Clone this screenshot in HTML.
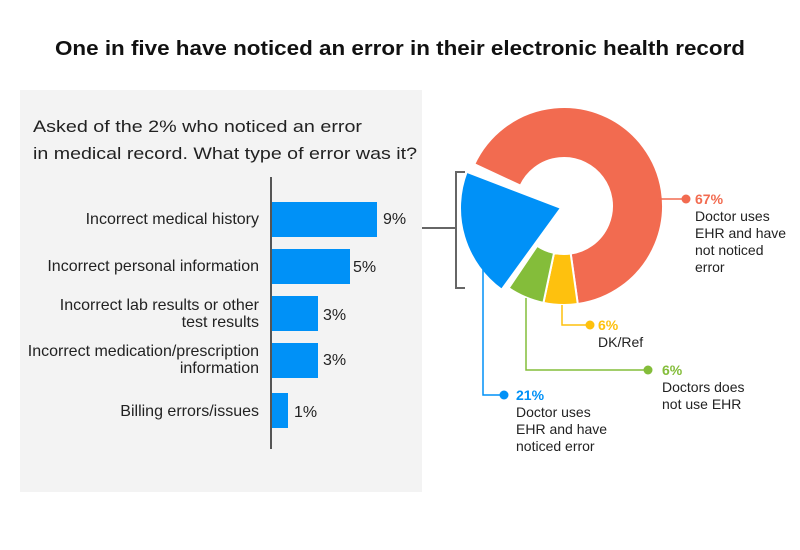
<!DOCTYPE html>
<html><head><meta charset="utf-8"><style>
html,body{margin:0;padding:0;background:#fff;}
body{width:800px;height:545px;overflow:hidden;font-family:"Liberation Sans",sans-serif;}
</style></head><body>
<svg width="800" height="545" viewBox="0 0 800 545" xmlns="http://www.w3.org/2000/svg" font-family="Liberation Sans, sans-serif">
<text x="55" y="55" font-size="20" font-weight="bold" fill="#111" textLength="690" lengthAdjust="spacingAndGlyphs">One in five have noticed an error in their electronic health record</text>
<rect x="20" y="90" width="402" height="402" fill="#f3f3f3"/>
<text x="33" y="132" font-size="17" fill="#222" textLength="329" lengthAdjust="spacingAndGlyphs">Asked of the 2% who noticed an error</text>
<text x="33" y="159" font-size="17" fill="#222" textLength="384" lengthAdjust="spacingAndGlyphs">in medical record. What type of error was it?</text>
<line x1="271" y1="177" x2="271" y2="449" stroke="#555" stroke-width="2"/>
<g fill="#0091f7">
<rect x="272" y="202" width="105" height="35"/>
<rect x="272" y="249" width="78" height="35"/>
<rect x="272" y="296" width="46" height="35"/>
<rect x="272" y="343" width="46" height="35"/>
<rect x="272" y="393" width="16" height="35"/>
</g>
<g font-size="16" fill="#222" text-anchor="end">
<text x="259" y="224">Incorrect medical history</text>
<text x="259" y="271">Incorrect personal information</text>
<text x="259" y="310">Incorrect lab results or other</text>
<text x="259" y="327">test results</text>
<text x="259" y="356">Incorrect medication/prescription</text>
<text x="259" y="373">information</text>
<text x="259" y="416">Billing errors/issues</text>
</g>
<g font-size="16" fill="#222">
<text x="383" y="224">9%</text>
<text x="353" y="272">5%</text>
<text x="323" y="320">3%</text>
<text x="323" y="365">3%</text>
<text x="294" y="417">1%</text>
</g>
<path d="M422 228 H456 M465 172 H456 V288 H465" stroke="#666" stroke-width="2" fill="none"/>
<g id="donut"></g>
<g fill="none" stroke-width="1.5">
<path d="M658 199 H685" stroke="#f26b50"/>
<path d="M562 305 V325 H590" stroke="#fec10e"/>
<path d="M526 298 V370 H648" stroke="#84bd3a"/>
<path d="M483 265 V395 H503" stroke="#0091f7"/>
</g>
<circle cx="686" cy="199" r="4.5" fill="#f26b50"/>
<circle cx="590" cy="325" r="4.5" fill="#fec10e"/>
<circle cx="648" cy="370" r="4.5" fill="#84bd3a"/>
<circle cx="504" cy="395" r="4.5" fill="#0091f7"/>
<g font-size="14" fill="#222">
<text x="695" y="204" fill="#f26b50" font-weight="bold">67%</text>
<text x="695" y="221">Doctor uses</text>
<text x="695" y="238">EHR and have</text>
<text x="695" y="255">not noticed</text>
<text x="695" y="272">error</text>
<text x="598" y="330" fill="#fec10e" font-weight="bold">6%</text>
<text x="598" y="347">DK/Ref</text>
<text x="662" y="375" fill="#84bd3a" font-weight="bold">6%</text>
<text x="662" y="392">Doctors does</text>
<text x="662" y="409">not use EHR</text>
<text x="516" y="400" fill="#0091f7" font-weight="bold">21%</text>
<text x="516" y="417">Doctor uses</text>
<text x="516" y="434">EHR and have</text>
<text x="516" y="451">noticed error</text>
</g>
</svg>
<script>
(function(){
var cx=564,cy=206,R=99,r=48,g=document.getElementById('donut');
function pt(a,rad,ox,oy){a=a*Math.PI/180;return [(ox||cx)+rad*Math.sin(a),(oy||cy)-rad*Math.cos(a)];}
function ring(a0,a1,col){
 var p0=pt(a0,R),p1=pt(a1,R),q1=pt(a1,r),q0=pt(a0,r),l=(a1-a0)>180?1:0;
 var d='M'+p0+' A'+R+' '+R+' 0 '+l+' 1 '+p1+' L'+q1+' A'+r+' '+r+' 0 '+l+' 0 '+q0+' Z';
 add(d,col);}
function add(d,col){var e=document.createElementNS('http://www.w3.org/2000/svg','path');e.setAttribute('d',d);e.setAttribute('fill',col);e.setAttribute('stroke','#fff');e.setAttribute('stroke-width','2');g.appendChild(e);}
ring(295,532,'#f26b50');
ring(172,192,'#fec10e');
ring(192,214,'#84bd3a');
var ox=cx-3,oy=cy+2,p0=pt(216,R+2,ox,oy),p1=pt(291,R+2,ox,oy);
add('M'+ox+','+oy+' L'+p0+' A'+(R+2)+' '+(R+2)+' 0 0 1 '+p1+' Z','#0091f7');
})();
</script>
</body></html>
